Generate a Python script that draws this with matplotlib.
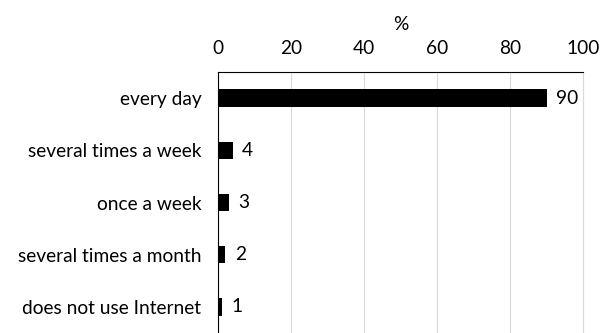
import matplotlib.pyplot as plt

categories = ['every day', 'several times a week', 'once a week',
              'several times a month', 'does not use Internet']
values = [90, 4, 3, 2, 1]

plt.rcParams['font.family'] = ['Lato', 'DejaVu Sans']
fs = 13.8

fig = plt.figure(figsize=(6.12, 3.33), dpi=100)
ax = fig.add_axes([218/612, 0, (583-218)/612, (333-72)/333])

ypos = list(range(len(categories)))
ax.barh(ypos, values, height=0.33, color='black', zorder=3)
for y, v in zip(ypos, values):
    ax.text(v + 2.6, y, str(v), va='center', ha='left', fontsize=fs)

ax.set_xlim(0, 100)
ax.set_ylim(len(categories) - 0.5, -0.5)
ax.set_yticks(ypos)
ax.set_yticklabels(categories, fontsize=fs)
ax.set_xticks(range(0, 101, 20))
ax.xaxis.tick_top()
ax.xaxis.set_label_position('top')
ax.set_xlabel('%', fontsize=fs, labelpad=7)
ax.tick_params(axis='both', length=0, labelsize=fs)
ax.tick_params(axis='x', pad=11)
ax.tick_params(axis='y', pad=12)
ax.grid(axis='x', color='#d9d9d9', linewidth=0.8, zorder=0)
ax.spines['bottom'].set_visible(False)
ax.spines['right'].set_color('#d9d9d9')
ax.spines['right'].set_linewidth(0.8)
ax.spines['top'].set_color('black')
ax.spines['left'].set_color('black')

fig.savefig('out.png', dpi=100)
